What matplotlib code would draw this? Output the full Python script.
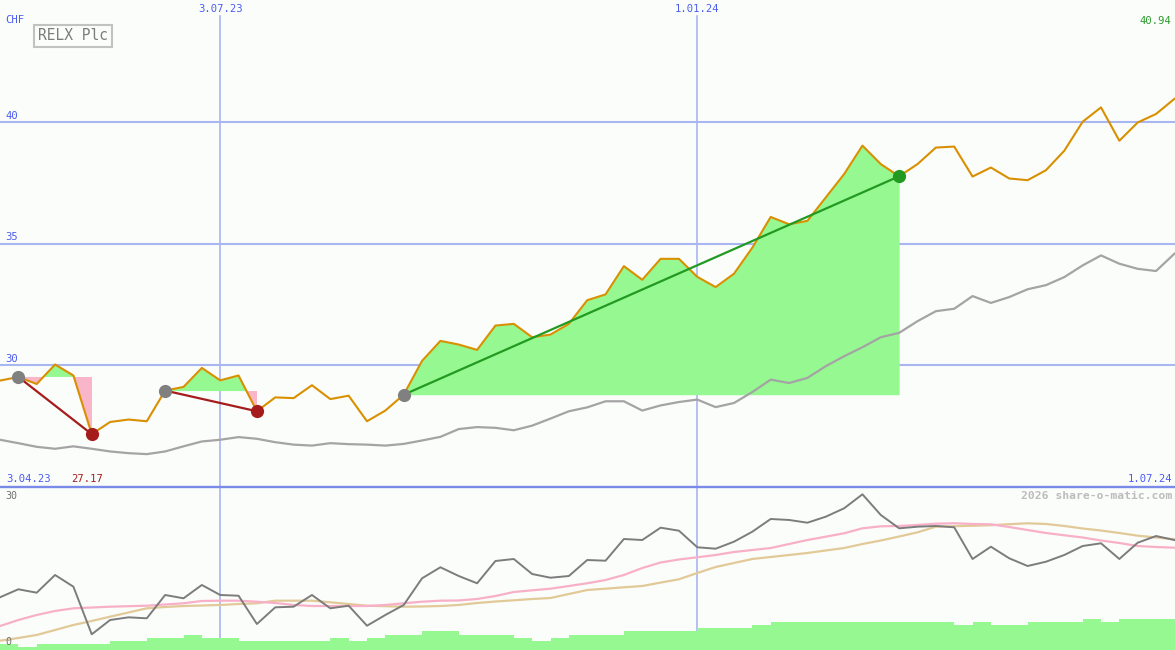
import matplotlib
matplotlib.use('Agg')
import matplotlib.pyplot as plt
from matplotlib.lines import Line2D
import numpy as np

W, H = 1175, 650

# ---- data (weekly, index 0 .. 64) ----
price = [29.37, 29.52, 29.23, 30.03, 29.58, 27.17, 27.67, 27.77, 27.70, 28.96,
         29.11, 29.89, 29.38, 29.58, 28.11, 28.68, 28.65, 29.18, 28.61, 28.75,
         27.70, 28.14, 28.79, 30.18, 31.00, 30.85, 30.63, 31.63, 31.70, 31.15,
         31.26, 31.70, 32.67, 32.91, 34.07, 33.51, 34.37, 34.37, 33.63, 33.21,
         33.76, 34.83, 36.09, 35.79, 35.93, 36.89, 37.85, 39.02, 38.26, 37.76,
         38.26, 38.94, 38.98, 37.75, 38.12, 37.67, 37.60, 38.01, 38.81, 40.00,
         40.59, 39.22, 39.97, 40.32, 40.94]

moving_avg = [26.94, 26.80, 26.65, 26.57, 26.67, 26.57, 26.46, 26.39, 26.35, 26.46,
              26.67, 26.87, 26.94, 27.05, 26.98, 26.84, 26.74, 26.70, 26.80, 26.76,
              26.74, 26.70, 26.77, 26.91, 27.06, 27.38, 27.46, 27.43, 27.33, 27.52,
              27.81, 28.11, 28.27, 28.52, 28.52, 28.14, 28.35, 28.49, 28.59, 28.28,
              28.45, 28.90, 29.41, 29.27, 29.48, 29.96, 30.37, 30.74, 31.15, 31.33,
              31.81, 32.22, 32.32, 32.84, 32.56, 32.80, 33.12, 33.29, 33.62, 34.10,
              34.51, 34.17, 33.96, 33.87, 34.58]

osc_gray = [9.17, 10.81, 10.11, 13.74, 11.34, 1.58, 4.51, 5.06, 4.86, 9.64,
            8.96, 11.69, 9.64, 9.49, 3.69, 7.11, 7.24, 9.64, 6.91, 7.44,
            3.34, 5.54, 7.59, 13.06, 15.32, 13.53, 12.04, 16.61, 17.02, 13.94,
            13.18, 13.53, 16.81, 16.67, 21.12, 20.91, 23.44, 22.82, 19.42, 19.13,
            20.57, 22.62, 25.22, 25.02, 24.46, 25.69, 27.41, 30.28, 26.04, 23.31,
            23.64, 23.79, 23.52, 17.02, 19.54, 17.16, 15.58, 16.46, 17.84, 19.68,
            20.24, 17.02, 20.36, 21.73, 20.91]

osc_pink = [3.28, 4.51, 5.54, 6.36, 6.91, 7.07, 7.24, 7.34, 7.44, 7.69,
            7.94, 8.41, 8.47, 8.47, 8.26, 8.00, 7.59, 7.38, 7.38, 7.38,
            7.38, 7.59, 7.94, 8.26, 8.47, 8.51, 8.82, 9.43, 10.25, 10.60,
            10.93, 11.48, 12.04, 12.71, 13.74, 15.17, 16.30, 16.92, 17.37, 17.84,
            18.45, 18.86, 19.27, 20.09, 20.91, 21.59, 22.29, 23.31, 23.72, 23.79,
            23.99, 24.26, 24.34, 24.20, 24.13, 23.58, 22.96, 22.35, 21.88, 21.43,
            20.81, 20.30, 19.68, 19.48, 19.34]

osc_tan = [0.27, 0.82, 1.44, 2.46, 3.49, 4.31, 5.19, 6.05, 6.91, 7.18,
           7.38, 7.48, 7.59, 7.79, 7.94, 8.47, 8.47, 8.47, 8.14, 7.79,
           7.44, 7.34, 7.24, 7.28, 7.38, 7.59, 8.00, 8.30, 8.55, 8.82,
           9.02, 9.84, 10.66, 10.93, 11.22, 11.48, 12.18, 12.86, 14.15, 15.38,
           16.20, 17.02, 17.43, 17.84, 18.25, 18.76, 19.27, 20.09, 20.81, 21.63,
           22.49, 23.64, 23.74, 23.83, 23.95, 24.15, 24.34, 24.20, 23.79, 23.27,
           22.86, 22.35, 21.80, 21.43, 21.06]

volume = [2, 1, 2, 2, 2, 2, 3, 3, 4, 4,
          5, 4, 4, 3, 3, 3, 3, 3, 4, 3,
          4, 5, 5, 6, 6, 5, 5, 5, 4, 3,
          4, 5, 5, 5, 6, 6, 6, 6, 7, 7,
          7, 8, 9, 9, 9, 9, 9, 9, 9, 9,
          9, 9, 8, 9, 8, 8, 9, 9, 9, 10,
          9, 10, 10, 10, 10]

date_labels = ['3.07.23', '1.01.24']
date_idx = [12, 38]
start_label = '3.04.23'
end_label = '1.07.24'
y_ticks = [30, 35, 40]
seg_start = [1, 9, 22]
seg_end = [5, 14, 49]
title = 'RELX Plc'
currency = 'CHF'
min_label = '27.17'
last_label = '40.94'

# ---- styling ----
bg = '#fbfdfb'
grid_c = '#a8b6f2'
sep_c = '#7a8ae8'
blue_txt = '#4a5cf0'
orange = '#d99000'
ma_c = '#a4a4a4'
fill_g = '#96f890'
fill_p = '#f8b6c8'
red_c = '#a51c1c'
green_c = '#229a22'
mono = 'DejaVu Sans Mono'

x = np.arange(len(price))
p = np.array(price)

fig = plt.figure(figsize=(W / 100, H / 100), dpi=100)
fig.patch.set_facecolor(bg)

top_h = 487
ax = fig.add_axes([0, (H - top_h) / H, 1, top_h / H])
axv = fig.add_axes([0, 0, 1, (H - top_h) / H])
axl = axv.twinx()
axl.set_position(axv.get_position())

xmax = W / 18.35
for a in (ax, axv, axl):
    a.set_xlim(0, xmax)
    a.set_facecolor(bg)
    for s in a.spines.values():
        s.set_visible(False)
    a.set_xticks([])
    a.set_yticks([])
axl.patch.set_visible(False)

ax.set_ylim(25, 45)
axv.set_ylim(0, (H - top_h) / 3.1)
axl.set_ylim(-1.64, 31.78)

# grid
for v in y_ticks:
    ax.axhline(v, color=grid_c, lw=1.5, zorder=1)
for i in date_idx:
    ax.axvline(i, ymin=0, ymax=1 - 16 / top_h, color=grid_c, lw=1.2, zorder=1)
    axv.axvline(i, color=grid_c, lw=1.2, zorder=1)

# trend fills
for s, e in zip(seg_start, seg_end):
    xs = x[s:e + 1]
    ys = p[s:e + 1]
    base = p[s]
    ax.fill_between(xs, base, ys, where=ys >= base, interpolate=True,
                    color=fill_g, lw=0, zorder=2)
    ax.fill_between(xs, base, ys, where=ys <= base, interpolate=True,
                    color=fill_p, lw=0, zorder=2)

ax.plot(x, moving_avg, color=ma_c, lw=1.6, zorder=3)
ax.plot(x, p, color=orange, lw=1.5, zorder=4)

for s, e in zip(seg_start, seg_end):
    up = p[e] > p[s]
    lc = green_c if up else red_c
    ax.plot([x[s], x[e]], [p[s], p[e]], color=lc, lw=1.6, zorder=5)
    ax.plot([x[s]], [p[s]], 'o', ms=9.5, color='#808080', mec='none', zorder=6)
    ax.plot([x[e]], [p[e]], 'o', ms=9.5, color=lc, mec='none', zorder=6)

# lower panel
axv.bar(x, volume, width=1.0, align='edge', color=fill_g, lw=0, zorder=2)
axl.plot(x, osc_tan, color='#e2c998', lw=1.6, zorder=3)
axl.plot(x, osc_pink, color='#f8b0c8', lw=1.6, zorder=3)
axl.plot(x, osc_gray, color='#7c7c7c', lw=1.4, zorder=4)

# separator
fig.add_artist(Line2D([0, 1], [(H - top_h) / H] * 2, transform=fig.transFigure,
                      color=sep_c, lw=1.7))


def ftxt(px, py, s, **kw):
    kw.setdefault('family', mono)
    kw.setdefault('va', 'center')
    fig.text(px / W, 1 - py / H, s, **kw)


ftxt(5, 20, currency, color=blue_txt, fontsize=7.6)
for lab, i in zip(date_labels, date_idx):
    ftxt(i * 18.35, 8.5, lab, color=blue_txt, fontsize=7.6, ha='center')
for v in y_ticks:
    ypx = top_h * (45 - v) / 20
    ftxt(5, ypx - 6, str(v), color=blue_txt, fontsize=7.6)
ftxt(1171, 21, last_label, color='#2a9a2a', fontsize=7.6, ha='right')
ftxt(6, 478.5, start_label, color=blue_txt, fontsize=7.6)
ftxt(71, 478.5, min_label, color=red_c, fontsize=7.6)
ftxt(1172, 478.5, end_label, color=blue_txt, fontsize=7.6, ha='right')
ftxt(1172, 496, '2026 share-o-matic.com', color='#bcbcbc', fontsize=8.2,
     ha='right', fontweight='bold')
ftxt(5, 496, '30', color='#707070', fontsize=7.2)
ftxt(5, 642, '0', color='#707070', fontsize=7.2)

ftxt(73, 36, title, color='#7c7c7c', fontsize=10.5, ha='center',
     bbox=dict(boxstyle='square,pad=0.25', fc=bg, ec='#c2c2c2', lw=1.5))

fig.savefig('out.png', dpi=100, facecolor=bg)
